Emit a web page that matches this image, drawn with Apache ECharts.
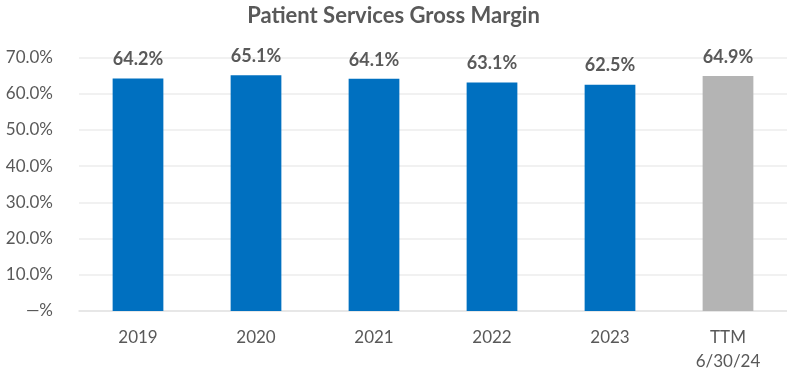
<!DOCTYPE html>
<html>
<head>
<meta charset="utf-8">
<script src="https://cdn.jsdelivr.net/npm/echarts@6/dist/echarts.min.js"></script>
<style>
  html, body { margin: 0; padding: 0; background: #fff; }
  #chart { width: 787px; height: 375px; }
</style>
</head>
<body>
<div id="chart"></div>
<script>
// Gross margin by period (percent)
const categories = ['2019', '2020', '2021', '2022', '2023', 'TTM\n6/30/24'];
const margins = [64.2, 65.1, 64.1, 63.1, 62.5, 64.9];
const yTicks = [0, 10, 20, 30, 40, 50, 60, 70];

const FONT = 'Lato, "Open Sans", sans-serif';
const TEXT = '#595959';

const chart = echarts.init(document.getElementById('chart'), null, { renderer: 'canvas' });

chart.setOption({
  animation: false,
  title: {
    text: 'Patient Services Gross Margin',
    left: 'center',
    top: 0,
    textStyle: { fontFamily: FONT, fontSize: 22, fontWeight: 'bold', color: TEXT }
  },
  grid: { left: 79, right: 0, top: 57.5, bottom: 64, containLabel: false },
  xAxis: {
    type: 'category',
    data: categories,
    axisLine: { lineStyle: { color: '#e3e3e3', width: 1.5 } },
    axisTick: { show: false },
    axisLabel: {
      fontFamily: FONT, fontSize: 17, color: TEXT, margin: 15, lineHeight: 24
    }
  },
  yAxis: {
    type: 'value',
    min: yTicks[0],
    max: yTicks[yTicks.length - 1],
    interval: 10,
    axisLine: { show: false },
    axisTick: { show: false },
    splitLine: { lineStyle: { color: '#ececec', width: 1.5 } },
    axisLabel: {
      fontFamily: FONT, fontSize: 17, color: TEXT, margin: 26,
      formatter: v => (v === 0 ? '—%' : v.toFixed(1) + '%')
    }
  },
  series: [{
    type: 'bar',
    data: margins,
    barWidth: '43%',
    itemStyle: {
      color: p => (categories[p.dataIndex].startsWith('TTM') ? '#b4b4b4' : '#0070c0')
    },
    label: {
      show: true,
      position: 'top',
      distance: 10,
      fontFamily: FONT, fontSize: 18, fontWeight: 'bold', color: TEXT,
      formatter: p => p.value.toFixed(1) + '%'
    }
  }]
});
</script>
</body>
</html>
